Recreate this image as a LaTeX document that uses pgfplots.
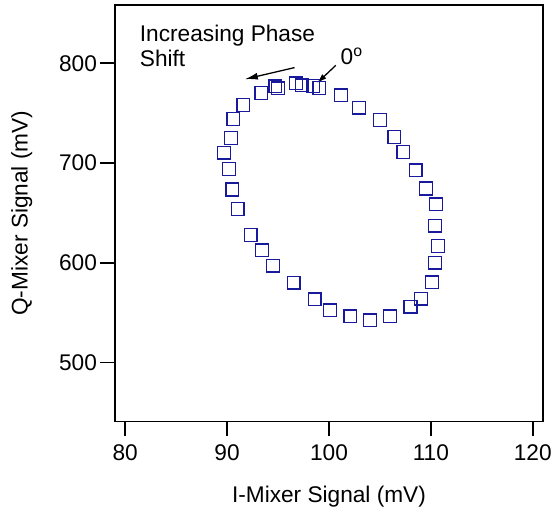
\documentclass[border=0pt]{standalone}
\usepackage{fontspec}
\setmainfont{Liberation Sans}
\usepackage{pgfplots}
\pgfplotsset{compat=1.18}
\usetikzlibrary{arrows.meta}
\definecolor{markblue}{RGB}{25,25,155}
\begin{document}
\begin{tikzpicture}[font=\fontsize{22.8}{27}\selectfont]
\begin{axis}[
  scale only axis, width=430pt, height=419pt,
  xmin=79.03, xmax=120.97, ymin=441, ymax=858.5,
  xtick={80,90,100,110,120}, ytick={500,600,700,800},
  xtick pos=bottom, ytick pos=left,
  tick align=outside, major tick length=15pt,
  axis line style={line width=1.8pt}, every tick/.style={black,line width=1.8pt},
  /pgf/number format/assume math mode=true,
  tick label style={font=\fontsize{22.8}{27}\selectfont},
  xticklabel style={yshift=-5pt},
  xlabel={I-Mixer Signal (mV)}, ylabel={Q-Mixer Signal (mV)},
  xlabel style={at={(axis description cs:0.5,-0.1957)},anchor=base},
  ylabel style={at={(axis description cs:-0.2053,0.5)},anchor=base,rotate=0},
  clip=false,
]
\addplot[color=markblue, only marks, mark=square, mark size=6.4pt, mark options={solid,line width=1.3pt}] coordinates {
(99.06,775.1) (98.47,777.4) (97.33,777.8) (96.78,779.8) (95.00,774.8) (94.73,776.8)
(93.37,770.1) (91.59,758.2) (90.61,744.2) (90.39,725.0) (89.71,710.4) (90.19,694.1)
(90.52,673.5) (91.03,653.9) (92.30,628.0) (93.41,612.5) (94.51,597.2) (96.52,580.2)
(98.60,563.3) (100.09,552.3) (102.10,546.3) (104.02,542.3) (106.00,546.3) (108.00,556.0)
(109.02,564.2) (110.12,580.4) (110.41,600.3) (110.70,617.0) (110.41,637.4) (110.51,658.6)
(109.50,674.5) (108.50,692.7) (107.29,711.1) (106.42,726.0) (105.00,743.2) (102.93,755.7)
(101.20,767.9)
};
\draw[-{Latex[length=13pt,width=7pt]}, line width=1.3pt] (axis cs:96.62,795.7) -- (axis cs:91.75,784.1);
\draw[-{Latex[length=10pt,width=6pt]}, line width=1.3pt] (axis cs:100.67,798) -- (axis cs:98.82,780.1);
\node[anchor=base west, inner sep=0pt] at (axis cs:81.43,822.2) {Increasing Phase};
\node[anchor=base west, inner sep=0pt] at (axis cs:81.43,797) {Shift};
\node[anchor=base west, inner sep=0pt] at (axis cs:101.13,799) {0\textsuperscript{o}};
\end{axis}
\path (current axis.south west) ++(-116pt,-90pt);
\path (current axis.north east) ++(9pt,5pt);
\end{tikzpicture}
\end{document}
